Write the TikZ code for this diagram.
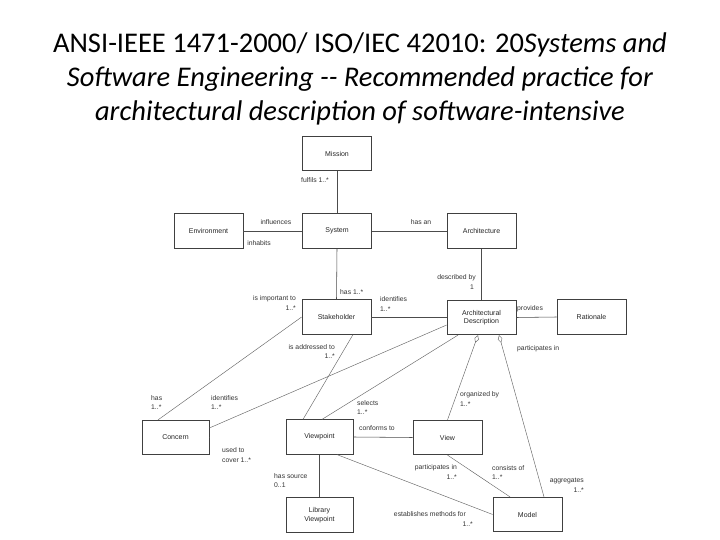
\documentclass[tikz,border=0pt]{standalone}
\usepackage{fontspec}
\setmainfont{Carlito}
\newfontfamily\lblfont{Liberation Sans}
\usetikzlibrary{arrows.meta}
\begin{document}
\begin{tikzpicture}[x=1pt,y=-1pt,
  box/.style={draw=black!75, line width=0.7pt, minimum width=69pt, minimum height=34.5pt, inner sep=0pt, align=center, font=\lblfont\fontsize{7}{8.5}\selectfont, text=black!85},
  conn/.style={draw=black!70, line width=0.55pt},
  diag/.style={draw=black!60, line width=0.45pt},
  agg/.style={diag, {Diamond[open, length=8pt, width=4.5pt]}-},
  lbl/.style={inner sep=0pt, font=\lblfont\fontsize{6.8}{8}\selectfont, text=black!80},
  ttl/.style={inner sep=0pt, font=\fontsize{28.5}{33}\selectfont}]
\useasboundingbox (0,0) rectangle (720,540);
\fill[white] (0,0) rectangle (720,540);

% title
\node[ttl] (t1) at (360,45) {ANSI-IEEE 1471-2000/ ISO/IEC 42010: 20\textit{Systems and}};
\node[ttl] (t2) at (360,79) {\textit{Software Engineering -{}- Recommended practice for}};
\node[ttl] (t3) at (360,113) {\textit{architectural description of software-intensive}};

% boxes
\node[box] (mis) at (337,153.5) {Mission};
\node[box] (env) at (208.5,231) {Environment};
\node[box] (sys) at (337,231) {System};
\node[box] (arc) at (481.5,231) {Architecture};
\node[box] (ad) at (481.5,317.5) {Architectural\\Description};
\node[box] (rat) at (591.5,317) {Rationale};
\node[box] (stk) at (336.5,317) {Stakeholder};
\node[box, minimum width=67pt] (con) at (175.5,437.5) {Concern};
\node[box, minimum width=67pt] (vp) at (319.5,437) {Viewpoint};
\node[box] (vw) at (447.5,437.5) {View};
\node[box, minimum width=67pt] (lib) at (319.5,515) {Library\\Viewpoint};
\node[box] (mod) at (527.5,514.5) {Model};

% connectors
\draw[conn] (mis.south) -- (sys.north);
\draw[conn] (env.east) -- (sys.west);
\draw[conn] (sys.east) -- (arc.west);
\draw[conn] (sys.south) -- (stk.north);
\draw[conn] (arc.south) -- (ad.north);
\draw[conn] (ad.east) -- (rat.west);
\draw[conn] (stk.east) -- (ad.west |- stk.east);
\draw[diag] (stk.west) -- ([xshift=-17.5pt]con.north);
\draw[diag] ([yshift=-7.5pt]ad.west) -- ([yshift=9.5pt]con.east);
\draw[diag] ([xshift=-23.5pt]ad.south) -- ([xshift=2.5pt]vp.north);
\draw[diag] ([xshift=16.5pt]stk.south) -- ([xshift=-16.5pt]vp.north);
\draw[conn] (con.east) -- (vp.west -| con.east);
\draw[conn] (vp.east) -- (vw.west);
\draw[conn, line width=1pt] (vp.south) -- (lib.north);
\draw[diag] ([xshift=17.5pt]vp.south) -- (mod.west);
\draw[diag] (vw.south) -- ([xshift=-17.5pt]mod.north);
\draw[agg] ([xshift=-3.5pt]ad.south) -- (vw.north);
\draw[agg] ([xshift=17.5pt]ad.south) -- ([xshift=16.5pt]mod.north);

% labels
\node[lbl, anchor=east] (l1) at (329,180) {fulfils 1..*};
\node[lbl] (l2) at (276,222) {influences};
\node[lbl] (l3) at (259,243) {inhabits};
\node[lbl] (l4) at (421,222) {has an};
\node[lbl, anchor=east] (l5) at (476,278) {described by};
\node[lbl, anchor=east] (l5b) at (474,287) {1};
\node[lbl, anchor=west] (l6) at (517,309) {provides};
\node[lbl, anchor=west] (l7) at (380,299) {identifies};
\node[lbl, anchor=west] (l7b) at (380,309) {1..*};
\node[lbl, anchor=east] (l8) at (296,299) {is important to};
\node[lbl, anchor=east] (l8b) at (296,308) {1..*};
\node[lbl, anchor=west] (l9) at (340,292) {has 1..*};
\node[lbl, anchor=east] (l10) at (335,347) {is addressed to};
\node[lbl, anchor=east] (l10b) at (335,356) {1..*};
\node[lbl, anchor=west] (l11) at (357,403) {selects};
\node[lbl, anchor=west] (l11b) at (357,412) {1..*};
\node[lbl, anchor=west] (l12) at (460,395) {organized by};
\node[lbl, anchor=west] (l12b) at (460,404) {1..*};
\node[lbl, anchor=west] (l13) at (517,349) {participates in};
\node[lbl, anchor=west] (l14) at (151,398) {has};
\node[lbl, anchor=west] (l14b) at (151,407) {1..*};
\node[lbl, anchor=west] (l15) at (211,398) {identifies};
\node[lbl, anchor=west] (l15b) at (211,407) {1..*};
\node[lbl, anchor=west] (l16) at (222,450) {used to};
\node[lbl, anchor=west] (l16b) at (222,460) {cover 1..*};
\node[lbl, anchor=west] (l17) at (359,428) {conforms to};
\node[lbl, anchor=west] (l18) at (274,476) {has source};
\node[lbl, anchor=west] (l18b) at (274,485) {0..1};
\node[lbl, anchor=east] (l19) at (457,468) {participates in};
\node[lbl, anchor=east] (l19b) at (457,477) {1..*};
\node[lbl, anchor=west] (l20) at (492,468) {consists of};
\node[lbl, anchor=west] (l20b) at (492,477) {1..*};
\node[lbl, anchor=east] (l21) at (584,481) {aggregates};
\node[lbl, anchor=east] (l21b) at (584,490) {1..*};
\node[lbl, anchor=east] (l22) at (466,514) {establishes methods for};
\node[lbl, anchor=east] (l22b) at (473,524) {1..*};
\end{tikzpicture}
\end{document}
